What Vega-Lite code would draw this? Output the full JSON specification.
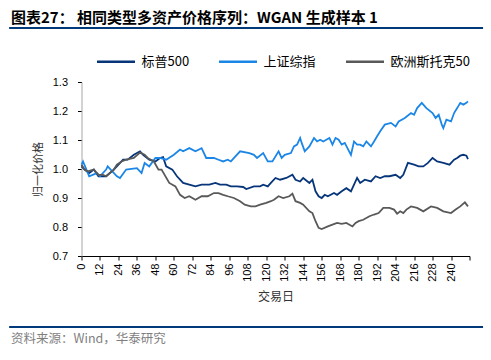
{
  "$schema": "https://vega.github.io/schema/vega-lite/v6.json",
  "width": 388,
  "height": 174,
  "autosize": {"type": "none"},
  "padding": {"left": 81.5, "top": 82, "right": 21.5, "bottom": 104},
  "background": "white",
  "config": {
    "view": {"stroke": null},
    "font": "Noto Sans CJK SC",
    "axis": {"grid": false, "labelFont": "Liberation Sans", "labelColor": "#000000", "titleFont": "Noto Sans CJK SC", "titleFontWeight": "normal", "titleColor": "#333333"}
  },
  "datasets": {
    "series": [
      {"s": "标普500", "d": 0, "v": 1.009}, {"s": "标普500", "d": 2, "v": 0.998}, {"s": "标普500", "d": 5, "v": 0.986}, {"s": "标普500", "d": 8, "v": 0.998}, {"s": "标普500", "d": 11, "v": 0.975}, {"s": "标普500", "d": 16, "v": 0.975}, {"s": "标普500", "d": 21, "v": 0.998}, {"s": "标普500", "d": 24, "v": 1.015}, {"s": "标普500", "d": 27, "v": 1.032}, {"s": "标普500", "d": 30, "v": 1.032}, {"s": "标普500", "d": 34, "v": 1.049}, {"s": "标普500", "d": 38, "v": 1.061}, {"s": "标普500", "d": 40, "v": 1.049}, {"s": "标普500", "d": 44, "v": 1.032}, {"s": "标普500", "d": 48, "v": 1.026}, {"s": "标普500", "d": 51, "v": 1.038}, {"s": "标普500", "d": 53, "v": 1.041}, {"s": "标普500", "d": 55, "v": 1.009}, {"s": "标普500", "d": 59, "v": 0.998}, {"s": "标普500", "d": 62, "v": 0.975}, {"s": "标普500", "d": 66, "v": 0.952}, {"s": "标普500", "d": 70, "v": 0.946}, {"s": "标普500", "d": 74, "v": 0.940}, {"s": "标普500", "d": 78, "v": 0.946}, {"s": "标普500", "d": 83, "v": 0.946}, {"s": "标普500", "d": 87, "v": 0.952}, {"s": "标普500", "d": 90, "v": 0.946}, {"s": "标普500", "d": 94, "v": 0.946}, {"s": "标普500", "d": 97, "v": 0.940}, {"s": "标普500", "d": 101, "v": 0.940}, {"s": "标普500", "d": 105, "v": 0.938}, {"s": "标普500", "d": 107, "v": 0.931}, {"s": "标普500", "d": 112, "v": 0.940}, {"s": "标普500", "d": 116, "v": 0.940}, {"s": "标普500", "d": 118, "v": 0.946}, {"s": "标普500", "d": 121, "v": 0.940}, {"s": "标普500", "d": 123, "v": 0.952}, {"s": "标普500", "d": 126, "v": 0.969}, {"s": "标普500", "d": 129, "v": 0.963}, {"s": "标普500", "d": 133, "v": 0.969}, {"s": "标普500", "d": 137, "v": 0.980}, {"s": "标普500", "d": 139, "v": 0.963}, {"s": "标普500", "d": 142, "v": 0.957}, {"s": "标普500", "d": 144, "v": 0.969}, {"s": "标普500", "d": 148, "v": 0.952}, {"s": "标普500", "d": 150, "v": 0.963}, {"s": "标普500", "d": 152, "v": 0.923}, {"s": "标普500", "d": 154, "v": 0.906}, {"s": "标普500", "d": 156, "v": 0.900}, {"s": "标普500", "d": 158, "v": 0.911}, {"s": "标普500", "d": 160, "v": 0.906}, {"s": "标普500", "d": 164, "v": 0.917}, {"s": "标普500", "d": 166, "v": 0.911}, {"s": "标普500", "d": 169, "v": 0.923}, {"s": "标普500", "d": 172, "v": 0.934}, {"s": "标普500", "d": 175, "v": 0.923}, {"s": "标普500", "d": 177, "v": 0.946}, {"s": "标普500", "d": 179, "v": 0.969}, {"s": "标普500", "d": 181, "v": 0.952}, {"s": "标普500", "d": 184, "v": 0.963}, {"s": "标普500", "d": 188, "v": 0.957}, {"s": "标普500", "d": 191, "v": 0.975}, {"s": "标普500", "d": 194, "v": 0.969}, {"s": "标普500", "d": 197, "v": 0.975}, {"s": "标普500", "d": 200, "v": 0.975}, {"s": "标普500", "d": 204, "v": 0.980}, {"s": "标普500", "d": 207, "v": 0.969}, {"s": "标普500", "d": 209, "v": 0.980}, {"s": "标普500", "d": 212, "v": 1.021}, {"s": "标普500", "d": 216, "v": 1.015}, {"s": "标普500", "d": 219, "v": 1.009}, {"s": "标普500", "d": 222, "v": 1.009}, {"s": "标普500", "d": 225, "v": 1.021}, {"s": "标普500", "d": 228, "v": 1.038}, {"s": "标普500", "d": 231, "v": 1.026}, {"s": "标普500", "d": 235, "v": 1.021}, {"s": "标普500", "d": 239, "v": 1.015}, {"s": "标普500", "d": 242, "v": 1.032}, {"s": "标普500", "d": 244, "v": 1.038}, {"s": "标普500", "d": 246, "v": 1.046}, {"s": "标普500", "d": 248, "v": 1.049}, {"s": "标普500", "d": 250, "v": 1.046}, {"s": "标普500", "d": 251, "v": 1.034},
      {"s": "上证综指", "d": 0, "v": 1.015}, {"s": "上证综指", "d": 1, "v": 1.026}, {"s": "上证综指", "d": 5, "v": 0.975}, {"s": "上证综指", "d": 10, "v": 0.986}, {"s": "上证综指", "d": 12, "v": 0.975}, {"s": "上证综指", "d": 16, "v": 0.998}, {"s": "上证综指", "d": 17, "v": 1.009}, {"s": "上证综指", "d": 23, "v": 0.975}, {"s": "上证综指", "d": 25, "v": 0.969}, {"s": "上证综指", "d": 29, "v": 0.998}, {"s": "上证综指", "d": 36, "v": 1.003}, {"s": "上证综指", "d": 39, "v": 0.986}, {"s": "上证综指", "d": 41, "v": 1.021}, {"s": "上证综指", "d": 44, "v": 1.009}, {"s": "上证综指", "d": 48, "v": 1.038}, {"s": "上证综指", "d": 51, "v": 1.038}, {"s": "上证综指", "d": 55, "v": 1.032}, {"s": "上证综指", "d": 60, "v": 1.049}, {"s": "上证综指", "d": 64, "v": 1.067}, {"s": "上证综指", "d": 66, "v": 1.061}, {"s": "上证综指", "d": 70, "v": 1.072}, {"s": "上证综指", "d": 74, "v": 1.061}, {"s": "上证综指", "d": 78, "v": 1.072}, {"s": "上证综指", "d": 81, "v": 1.038}, {"s": "上证综指", "d": 86, "v": 1.038}, {"s": "上证综指", "d": 89, "v": 1.032}, {"s": "上证综指", "d": 92, "v": 1.026}, {"s": "上证综指", "d": 95, "v": 1.032}, {"s": "上证综指", "d": 97, "v": 1.026}, {"s": "上证综指", "d": 103, "v": 1.061}, {"s": "上证综指", "d": 109, "v": 1.055}, {"s": "上证综指", "d": 112, "v": 1.049}, {"s": "上证综指", "d": 114, "v": 1.038}, {"s": "上证综指", "d": 118, "v": 1.055}, {"s": "上证综指", "d": 121, "v": 1.026}, {"s": "上证综指", "d": 124, "v": 1.026}, {"s": "上证综指", "d": 128, "v": 1.061}, {"s": "上证综指", "d": 130, "v": 1.038}, {"s": "上证综指", "d": 132, "v": 1.049}, {"s": "上证综指", "d": 136, "v": 1.055}, {"s": "上证综指", "d": 138, "v": 1.078}, {"s": "上证综指", "d": 140, "v": 1.084}, {"s": "上证综指", "d": 142, "v": 1.107}, {"s": "上证综指", "d": 143, "v": 1.090}, {"s": "上证综指", "d": 145, "v": 1.061}, {"s": "上证综指", "d": 148, "v": 1.078}, {"s": "上证综指", "d": 151, "v": 1.107}, {"s": "上证综指", "d": 153, "v": 1.095}, {"s": "上证综指", "d": 155, "v": 1.101}, {"s": "上证综指", "d": 157, "v": 1.095}, {"s": "上证综指", "d": 161, "v": 1.107}, {"s": "上证综指", "d": 163, "v": 1.084}, {"s": "上证综指", "d": 165, "v": 1.107}, {"s": "上证综指", "d": 167, "v": 1.101}, {"s": "上证综指", "d": 169, "v": 1.084}, {"s": "上证综指", "d": 171, "v": 1.090}, {"s": "上证综指", "d": 175, "v": 1.049}, {"s": "上证综指", "d": 177, "v": 1.095}, {"s": "上证综指", "d": 179, "v": 1.084}, {"s": "上证综指", "d": 181, "v": 1.084}, {"s": "上证综指", "d": 183, "v": 1.078}, {"s": "上证综指", "d": 185, "v": 1.095}, {"s": "上证综指", "d": 188, "v": 1.078}, {"s": "上证综指", "d": 190, "v": 1.095}, {"s": "上证综指", "d": 192, "v": 1.113}, {"s": "上证综指", "d": 194, "v": 1.130}, {"s": "上证综指", "d": 197, "v": 1.153}, {"s": "上证综指", "d": 201, "v": 1.159}, {"s": "上证综指", "d": 204, "v": 1.147}, {"s": "上证综指", "d": 206, "v": 1.164}, {"s": "上证综指", "d": 208, "v": 1.170}, {"s": "上证综指", "d": 210, "v": 1.176}, {"s": "上证综指", "d": 214, "v": 1.193}, {"s": "上证综指", "d": 216, "v": 1.187}, {"s": "上证综指", "d": 218, "v": 1.210}, {"s": "上证综指", "d": 221, "v": 1.228}, {"s": "上证综指", "d": 224, "v": 1.210}, {"s": "上证综指", "d": 228, "v": 1.193}, {"s": "上证综指", "d": 230, "v": 1.176}, {"s": "上证综指", "d": 232, "v": 1.187}, {"s": "上证综指", "d": 234, "v": 1.153}, {"s": "上证综指", "d": 235, "v": 1.141}, {"s": "上证综指", "d": 237, "v": 1.170}, {"s": "上证综指", "d": 240, "v": 1.164}, {"s": "上证综指", "d": 242, "v": 1.193}, {"s": "上证综指", "d": 244, "v": 1.210}, {"s": "上证综指", "d": 246, "v": 1.228}, {"s": "上证综指", "d": 248, "v": 1.222}, {"s": "上证综指", "d": 250, "v": 1.228}, {"s": "上证综指", "d": 251, "v": 1.233},
      {"s": "欧洲斯托克50", "d": 0, "v": 1.015}, {"s": "欧洲斯托克50", "d": 2, "v": 0.998}, {"s": "欧洲斯托克50", "d": 4, "v": 0.992}, {"s": "欧洲斯托克50", "d": 8, "v": 0.998}, {"s": "欧洲斯托克50", "d": 11, "v": 0.980}, {"s": "欧洲斯托克50", "d": 14, "v": 0.980}, {"s": "欧洲斯托克50", "d": 16, "v": 0.975}, {"s": "欧洲斯托克50", "d": 21, "v": 0.998}, {"s": "欧洲斯托克50", "d": 23, "v": 1.015}, {"s": "欧洲斯托克50", "d": 26, "v": 1.026}, {"s": "欧洲斯托克50", "d": 29, "v": 1.032}, {"s": "欧洲斯托克50", "d": 34, "v": 1.038}, {"s": "欧洲斯托克50", "d": 38, "v": 1.057}, {"s": "欧洲斯托克50", "d": 41, "v": 1.049}, {"s": "欧洲斯托克50", "d": 43, "v": 1.038}, {"s": "欧洲斯托克50", "d": 47, "v": 1.026}, {"s": "欧洲斯托克50", "d": 50, "v": 0.998}, {"s": "欧洲斯托克50", "d": 52, "v": 0.998}, {"s": "欧洲斯托克50", "d": 57, "v": 0.952}, {"s": "欧洲斯托克50", "d": 61, "v": 0.940}, {"s": "欧洲斯托克50", "d": 64, "v": 0.911}, {"s": "欧洲斯托克50", "d": 67, "v": 0.900}, {"s": "欧洲斯托克50", "d": 70, "v": 0.906}, {"s": "欧洲斯托克50", "d": 74, "v": 0.894}, {"s": "欧洲斯托克50", "d": 78, "v": 0.906}, {"s": "欧洲斯托克50", "d": 82, "v": 0.906}, {"s": "欧洲斯托克50", "d": 86, "v": 0.917}, {"s": "欧洲斯托克50", "d": 89, "v": 0.917}, {"s": "欧洲斯托克50", "d": 92, "v": 0.911}, {"s": "欧洲斯托克50", "d": 95, "v": 0.906}, {"s": "欧洲斯托克50", "d": 99, "v": 0.900}, {"s": "欧洲斯托克50", "d": 103, "v": 0.889}, {"s": "欧洲斯托克50", "d": 106, "v": 0.877}, {"s": "欧洲斯托克50", "d": 110, "v": 0.871}, {"s": "欧洲斯托克50", "d": 113, "v": 0.871}, {"s": "欧洲斯托克50", "d": 116, "v": 0.877}, {"s": "欧洲斯托克50", "d": 120, "v": 0.883}, {"s": "欧洲斯托克50", "d": 123, "v": 0.889}, {"s": "欧洲斯托克50", "d": 125, "v": 0.894}, {"s": "欧洲斯托克50", "d": 128, "v": 0.906}, {"s": "欧洲斯托克50", "d": 131, "v": 0.900}, {"s": "欧洲斯托克50", "d": 135, "v": 0.906}, {"s": "欧洲斯托克50", "d": 137, "v": 0.915}, {"s": "欧洲斯托克50", "d": 139, "v": 0.889}, {"s": "欧洲斯托克50", "d": 142, "v": 0.883}, {"s": "欧洲斯托克50", "d": 144, "v": 0.877}, {"s": "欧洲斯托克50", "d": 148, "v": 0.854}, {"s": "欧洲斯托克50", "d": 150, "v": 0.848}, {"s": "欧洲斯托克50", "d": 152, "v": 0.820}, {"s": "欧洲斯托克50", "d": 154, "v": 0.797}, {"s": "欧洲斯托克50", "d": 156, "v": 0.793}, {"s": "欧洲斯托克50", "d": 160, "v": 0.802}, {"s": "欧洲斯托克50", "d": 163, "v": 0.808}, {"s": "欧洲斯托克50", "d": 166, "v": 0.814}, {"s": "欧洲斯托克50", "d": 169, "v": 0.811}, {"s": "欧洲斯托克50", "d": 172, "v": 0.814}, {"s": "欧洲斯托克50", "d": 176, "v": 0.802}, {"s": "欧洲斯托克50", "d": 178, "v": 0.814}, {"s": "欧洲斯托克50", "d": 180, "v": 0.820}, {"s": "欧洲斯托克50", "d": 183, "v": 0.825}, {"s": "欧洲斯托克50", "d": 187, "v": 0.837}, {"s": "欧洲斯托克50", "d": 190, "v": 0.843}, {"s": "欧洲斯托克50", "d": 193, "v": 0.848}, {"s": "欧洲斯托克50", "d": 196, "v": 0.866}, {"s": "欧洲斯托克50", "d": 200, "v": 0.866}, {"s": "欧洲斯托克50", "d": 203, "v": 0.860}, {"s": "欧洲斯托克50", "d": 205, "v": 0.846}, {"s": "欧洲斯托克50", "d": 207, "v": 0.854}, {"s": "欧洲斯托克50", "d": 209, "v": 0.848}, {"s": "欧洲斯托克50", "d": 211, "v": 0.860}, {"s": "欧洲斯托克50", "d": 214, "v": 0.871}, {"s": "欧洲斯托克50", "d": 218, "v": 0.866}, {"s": "欧洲斯托克50", "d": 222, "v": 0.854}, {"s": "欧洲斯托克50", "d": 227, "v": 0.871}, {"s": "欧洲斯托克50", "d": 231, "v": 0.866}, {"s": "欧洲斯托克50", "d": 235, "v": 0.854}, {"s": "欧洲斯托克50", "d": 240, "v": 0.848}, {"s": "欧洲斯托克50", "d": 243, "v": 0.860}, {"s": "欧洲斯托克50", "d": 246, "v": 0.871}, {"s": "欧洲斯托克50", "d": 249, "v": 0.885}, {"s": "欧洲斯托克50", "d": 251, "v": 0.871}
    ]
  },
  "layer": [
    {
      "data": {"name": "series"},
      "mark": {"type": "line", "strokeWidth": 1.8},
      "encoding": {
        "x": {
          "field": "d", "type": "quantitative",
          "scale": {"domain": [0, 252], "nice": false, "zero": false},
          "axis": {
            "values": [0, 12, 24, 36, 48, 60, 72, 84, 96, 108, 120, 132, 144, 156, 168, 180, 192, 204, 216, 228, 240, 252],
            "tickCount": 40,
            "labelExpr": "datum.value == 252 ? '' : datum.label",
            "labelOverlap": false,
            "labelFlush": false,
            "labelAngle": 270,
            "labelFontSize": 11,
            "labelPadding": 3,
            "tickSize": 4,
            "tickColor": "#000000",
            "domainColor": "#000000",
            "title": "交易日",
            "titleFontSize": 12,
            "titlePadding": 10
          }
        },
        "y": {
          "field": "v", "type": "quantitative",
          "scale": {"domain": [0.7, 1.3], "nice": false, "zero": false},
          "axis": {
            "values": [0.7, 0.8, 0.9, 1.0, 1.1, 1.2, 1.3],
            "tickCount": 20,
            "format": ".1f",
            "labelOverlap": false,
            "labelFlush": false,
            "labelFontSize": 11,
            "labelPadding": 10,
            "tickSize": 4,
            "tickColor": "#000000",
            "domainColor": "#A6A6A6",
            "title": "归一化价格",
            "titleFontSize": 11,
            "titlePadding": 9
          }
        },
        "color": {
          "field": "s", "type": "nominal",
          "scale": {"domain": ["标普500", "上证综指", "欧洲斯托克50"], "range": ["#06357A", "#1B86E6", "#595959"]},
          "legend": {
            "orient": "none",
            "legendX": 14,
            "legendY": -41,
            "direction": "horizontal",
            "title": null,
            "symbolType": "stroke",
            "symbolSize": 1444,
            "symbolStrokeWidth": 2.5,
            "labelFontSize": 13,
            "labelFont": "Noto Sans CJK SC",
            "labelColor": "#000000",
            "labelOffset": 5,
            "columnPadding": 24
          }
        }
      }
    },
    {
      "data": {"values": [{}]},
      "mark": {"type": "text", "text": "图表27：  相同类型多资产价格序列：WGAN 生成样本 1", "align": "left", "baseline": "middle", "fontSize": 15, "fontWeight": "bold", "font": "Noto Sans CJK SC", "color": "#000000"},
      "encoding": {"x": {"datum": -45.8}, "y": {"datum": 1.519}}
    },
    {
      "data": {"values": [{}]},
      "mark": {"type": "rule", "color": "#003A7A", "strokeWidth": 2},
      "encoding": {"x": {"datum": -47}, "x2": {"datum": 260.8}, "y": {"datum": 1.486}}
    },
    {
      "data": {"values": [{}]},
      "mark": {"type": "rule", "color": "#003A7A", "strokeWidth": 2},
      "encoding": {"x": {"datum": -47}, "x2": {"datum": 260.8}, "y": {"datum": 0.4552}}
    },
    {
      "data": {"values": [{}]},
      "mark": {"type": "text", "text": "资料来源：Wind，华泰研究", "align": "left", "baseline": "middle", "fontSize": 12.5, "font": "Noto Sans CJK SC", "color": "#7F7F7F"},
      "encoding": {"x": {"datum": -45.8}, "y": {"datum": 0.414}}
    }
  ]
}
